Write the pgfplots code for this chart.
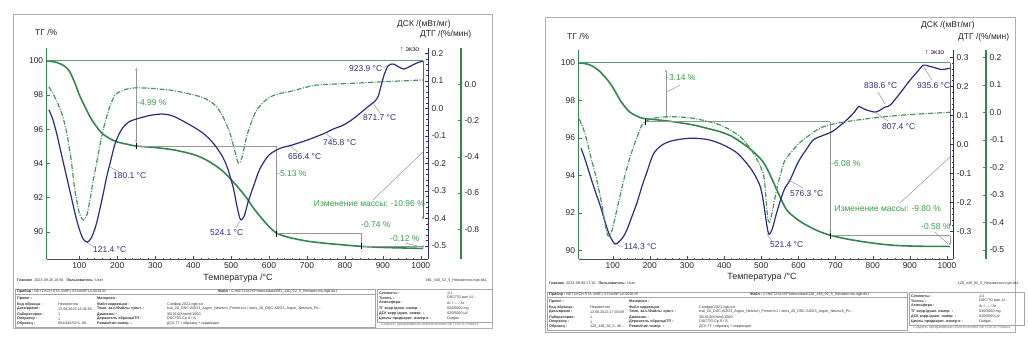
\documentclass[border=0pt]{standalone}
\usepackage{pgfplots}
\pgfplotsset{compat=1.18}
\usepackage{fontspec}
\setmainfont{Liberation Sans}
\usetikzlibrary{arrows.meta}
\definecolor{tggreen}{RGB}{50,135,80}
\definecolor{dtggreen}{RGB}{70,150,90}
\definecolor{annogreen}{RGB}{55,160,70}
\definecolor{dscnavy}{RGB}{42,45,125}
\definecolor{annogray}{RGB}{150,150,150}
\definecolor{framegray}{RGB}{175,175,175}
\pgfplotsset{
  base/.style={scale only axis, clip=false,
    tick label style={font=\fontsize{8.5}{10}\selectfont, text=black!85},
    /pgf/number format/assume math mode=true,
    /pgf/number format/1000 sep={},
    major tick length=3bp, minor tick length=1.6bp},
  onedec/.style={yticklabel style={/pgf/number format/fixed,/pgf/number format/precision=1,/pgf/number format/fixed zerofill}},
  tgline/.style={tggreen, line width=1.6bp, smooth},
  dscline/.style={dscnavy, line width=1.2bp, smooth},
  dtgline/.style={dtggreen, line width=1.2bp, smooth, dash pattern=on 5bp off 1.5bp on 1bp off 1.5bp},
}
\newcommand{\infotable}[6]{%
\begin{scope}[shift={(#1,#2)}, every node/.style={font=\fontsize{3.7}{4}\selectfont, text=black!80, inner sep=0pt, anchor=west}]
\node at (4,0) {\textbf{Главное}\ \ #3 \ \ \textbf{Пользователь:} User};
\node[anchor=east] at (474,1) {#6};
\draw[black!35, line width=0.4bp] (2,9) rectangle (362,47);
\draw[black!35, line width=0.4bp] (364,9) rectangle (479,42);
\draw[black!35, line width=0.3bp] (2,14.5) -- (362,14.5);
\node at (4,11.7) {\textbf{Прибор :}\ NETZSCH STA 449F1 STA449F1A-0016-M};
\node at (205,11.7) {\textbf{Файл :}\ C:\textbackslash NETZSCH\textbackslash Proteus\textbackslash data\textbackslash #6};
\node at (4,19) {\textbf{Проект :}};
\node at (84,19) {\textbf{Материал :}};
\node at (4,24.3) {\textbf{Код образца :}};\node at (45,24.3) {Неизвестно};
\node at (84,24.3) {\textbf{Файл коррекции :}};\node at (154,24.3) {Сапфир 2022.ngb-sct};
\node at (4,29) {\textbf{Дата/время :}};\node at (45,29) {#4};
\node at (84,29) {\textbf{Темп. кал./Файлы чувст. :}};\node at (154,29) {tcal\_20\_DSC-Al2O3\_Argon\_Netzsch\_Primer.tc1 / sens\_20\_DSC-Al2O3\_Argon\_Netzsch\_Pri...};
\node at (4,34.3) {\textbf{Лаборатория :}};\node at (45,34.3) {1};
\node at (84,34.3) {\textbf{Диапазон :}};\node at (154,34.3) {30/10.0(K/min)/1000};
\node at (4,39) {\textbf{Оператор :}};\node at (45,39) {1};
\node at (84,39) {\textbf{Держатель образца/ТП :}};\node at (154,39) {DSC/TG Cp S / S};
\node at (4,43.7) {\textbf{Образец :}};\node at (45,43.7) {#5};
\node at (84,43.7) {\textbf{Режим/тип измер. :}};\node at (154,43.7) {ДСК-ТГ / образец + коррекция};
\node at (366,13.3) {\textbf{Сегменты :}};\node at (434,13.3) {1/1};
\node at (366,18) {\textbf{Тигель :}};\node at (434,18) {DSC/TG pan Al...};
\node at (366,23) {\textbf{Атмосфера :}};\node at (434,23) {Ar / --- / Ar};
\node at (366,28.7) {\textbf{ТГ корр./диап. измер. :}};\node at (434,28.7) {020/5000 mg};
\node at (366,33.7) {\textbf{ДСК корр./диап. измер. :}};\node at (434,33.7) {020/5000 µV};
\node at (366,38.3) {\textbf{Циклы предварит. измер-я :}};\node at (434,38.3) {Outgas};
\node[text=black!55] at (368,44.5) {Создано программным обеспечением NETZSCH Proteus};
\end{scope}}
\begin{document}
\begin{tikzpicture}
\fill[white] (0,0) rectangle (1028bp,354bp);
% ================= LEFT PANEL =================
\begin{axis}[base, at={(46.7bp,94.7bp)}, anchor=south west, width=381.3bp, height=211.3bp,
  xmin=14, xmax=1019, ymin=88.386, ymax=100.743,
  axis x line*=bottom, axis y line*=left,
  xtick={100,200,300,400,500,600,700,800,900,1000}, minor x tick num=4,
  ytick={90,92,94,96,98,100},
  x axis line style={black!70, line width=0.8bp}, xtick style={black!70},
  y axis line style={tggreen, line width=1.2bp}, ytick style={tggreen}]
\addplot[tgline] coordinates {(14,100.0)(40,99.9)(60,99.7)(75,99.35)(90,98.6)(100,98.0)(115,97.3)(130,96.65)(145,96.15)(160,95.75)(180,95.45)(200,95.25)(225,95.12)(250,95.01)(300,94.92)(350,94.78)(400,94.52)(430,94.25)(460,93.85)(480,93.5)(500,93.05)(520,92.55)(540,92.0)(560,91.35)(580,90.8)(600,90.3)(620,89.92)(650,89.68)(700,89.45)(750,89.32)(800,89.22)(845,89.14)(900,89.08)(950,89.05)(1006,89.02)};
\draw[tggreen!80, line width=0.6bp] (14,100) -- (1006,100);
\draw[annogray, line width=0.6bp] (250,95.01) -- (620,95.01);
\draw[annogray, line width=0.6bp] (620,89.88) -- (844,89.88);
\draw[annogray, line width=0.6bp] (844,89.14) -- (1006,89.14);
\draw[annogray, line width=0.6bp, {Stealth[length=3bp,width=2bp]}-{Stealth[length=3bp,width=2bp]}] (250,99.6) -- (250,95.2);
\draw[annogray, line width=0.6bp, -{Stealth[length=3bp,width=2bp]}] (620,95.01) -- (620,89.95);
\draw[annogray, line width=0.6bp, -{Stealth[length=3bp,width=2bp]}] (844,89.88) -- (844,89.18);
\draw[annogray, line width=0.6bp, -{Stealth[length=3bp,width=2bp]}] (1006,89.14) -- (1006,89.04);
\draw[black!60, line width=0.6bp, -{Stealth[length=3bp,width=2bp]}] (1006,100) -- (1006,90.7);
\draw[black, line width=0.6bp] (250,95.18) -- (250,94.84) (620,90.05) -- (620,89.71) (844,89.31) -- (844,88.97);
\end{axis}
\begin{axis}[base, at={(46.7bp,94.7bp)}, anchor=south west, width=381.3bp, height=211.3bp,
  xmin=14, xmax=1019, ymin=-0.5491, ymax=0.2193,
  axis y line*=right, axis x line=none, onedec,
  ytick={-0.5,-0.4,-0.3,-0.2,-0.1,0,0.1,0.2}, minor y tick num=4,
  y axis line style={dscnavy, line width=1bp}, ytick style={dscnavy}]
\addplot[dscline] coordinates {(20,-0.006)(30,-0.04)(40,-0.09)(50,-0.15)(60,-0.21)(70,-0.27)(80,-0.33)(90,-0.39)(100,-0.44)(110,-0.475)(121,-0.487)(132,-0.47)(145,-0.42)(160,-0.33)(172,-0.25)(181,-0.2)(194,-0.13)(210,-0.08)(230,-0.05)(260,-0.035)(290,-0.025)(321,-0.021)(350,-0.03)(400,-0.067)(430,-0.095)(453,-0.127)(475,-0.17)(490,-0.215)(506,-0.29)(516,-0.36)(525,-0.405)(535,-0.39)(545,-0.34)(560,-0.28)(576,-0.22)(600,-0.17)(630,-0.145)(655,-0.136)(680,-0.125)(708,-0.112)(730,-0.1)(746,-0.091)(770,-0.075)(796,-0.061)(820,-0.04)(840,-0.018)(860,0.005)(872,0.018)(880,0.027)(888,0.045)(895,0.08)(903,0.12)(912,0.15)(920,0.16)(930,0.16)(940,0.152)(954,0.143)(965,0.148)(975,0.155)(990,0.165)(1006,0.172)};
\end{axis}
\begin{axis}[base, at={(46.7bp,94.7bp)}, anchor=south west, width=414.3bp, height=211.3bp,
  xmin=14, xmax=1106, ymin=-0.9669, ymax=0.2006,
  axis y line*=right, axis x line=none, onedec,
  ytick={-0.8,-0.6,-0.4,-0.2,0},
  y axis line style={tggreen, line width=1.2bp}, ytick style={tggreen}]
\addplot[dtgline] coordinates {(20,-0.015)(30,-0.05)(40,-0.09)(55,-0.17)(67,-0.27)(78,-0.41)(88,-0.58)(100,-0.71)(111,-0.75)(120,-0.72)(128,-0.64)(136,-0.54)(145,-0.44)(155,-0.33)(163,-0.25)(172,-0.18)(181,-0.12)(190,-0.075)(199,-0.05)(220,-0.03)(243,-0.02)(286,-0.022)(348,-0.035)(418,-0.068)(445,-0.095)(462,-0.125)(480,-0.185)(497,-0.27)(510,-0.37)(519,-0.435)(528,-0.41)(541,-0.29)(555,-0.2)(568,-0.14)(585,-0.1)(603,-0.07)(630,-0.05)(655,-0.04)(700,-0.015)(726,-0.004)(814,0.005)(901,0.014)(1006,0.024)};
\end{axis}
% ================= RIGHT PANEL =================
\begin{axis}[base, at={(578.5bp,94.7bp)}, anchor=south west, width=374.7bp, height=209.3bp,
  xmin=7.9, xmax=1016.8, ymin=89.515, ymax=100.677,
  axis x line*=bottom, axis y line*=left,
  xtick={100,200,300,400,500,600,700,800,900,1000}, minor x tick num=4,
  ytick={90,92,94,96,98,100},
  x axis line style={black!70, line width=0.8bp}, xtick style={black!70},
  y axis line style={tggreen, line width=1.2bp}, ytick style={tggreen}]
\addplot[tgline] coordinates {(8,100.0)(39,99.88)(66,99.52)(93,98.9)(110,98.35)(120,98.0)(135,97.6)(147,97.35)(165,97.15)(182,97.03)(210,96.97)(245,96.9)(280,96.8)(317,96.68)(350,96.52)(389,96.32)(420,96.08)(443,95.79)(470,95.4)(497,94.9)(510,94.55)(523,94.05)(540,93.3)(555,92.65)(569,92.13)(590,91.75)(613,91.43)(650,91.05)(685,90.8)(730,90.6)(775,90.45)(820,90.33)(865,90.25)(930,90.21)(1008,90.2)};
\draw[tggreen!80, line width=0.6bp] (8,100) -- (1008,100);
\draw[annogray, line width=0.6bp] (187,96.86) -- (686,96.86);
\draw[annogray, line width=0.6bp] (686,90.78) -- (1008,90.78);
\draw[annogray, line width=0.6bp, {Stealth[length=3bp,width=2bp]}-{Stealth[length=3bp,width=2bp]}] (243,99.65) -- (243,97.0);
\draw[annogray, line width=0.6bp, -{Stealth[length=3bp,width=2bp]}] (686,96.86) -- (686,90.9);
\draw[annogray, line width=0.6bp, -{Stealth[length=3bp,width=2bp]}] (1008,90.78) -- (1008,90.25);
\draw[black!60, line width=0.6bp, -{Stealth[length=3bp,width=2bp]}] (1008,100) -- (1008,91.25);
\draw[black, line width=0.6bp] (187,97.02) -- (187,96.7) (686,90.94) -- (686,90.62);
\end{axis}
\begin{axis}[base, at={(578.5bp,94.7bp)}, anchor=south west, width=374.7bp, height=209.3bp,
  xmin=7.9, xmax=1016.8, ymin=-0.3966, ymax=0.3252,
  axis y line*=right, axis x line=none, onedec,
  ytick={-0.3,-0.2,-0.1,0,0.1,0.2,0.3}, minor y tick num=4,
  y axis line style={dscnavy, line width=1bp}, ytick style={dscnavy}]
\addplot[dscline] coordinates {(15,-0.014)(25,-0.05)(35,-0.09)(43,-0.123)(55,-0.17)(66,-0.21)(80,-0.27)(92,-0.315)(106,-0.344)(118,-0.335)(128,-0.32)(138,-0.296)(150,-0.255)(165,-0.203)(180,-0.14)(191,-0.1)(209,-0.035)(230,-0.005)(254,0.01)(285,0.018)(317,0.021)(353,0.017)(380,0.007)(407,-0.008)(435,-0.03)(461,-0.066)(480,-0.1)(497,-0.145)(506,-0.2)(515,-0.28)(521,-0.31)(530,-0.29)(541,-0.238)(555,-0.18)(564,-0.15)(577,-0.124)(600,-0.06)(620,-0.02)(640,0.015)(665,0.03)(690,0.043)(710,0.062)(730,0.084)(750,0.11)(762,0.13)(772,0.125)(784,0.118)(807,0.111)(820,0.118)(833,0.128)(847,0.135)(870,0.17)(901,0.222)(920,0.25)(936,0.273)(950,0.27)(968,0.264)(985,0.258)(1008,0.262)};
\end{axis}
\begin{axis}[base, at={(578.5bp,94.7bp)}, anchor=south west, width=407.5bp, height=209.3bp,
  xmin=7.9, xmax=1105.1, ymin=-0.5345, ymax=0.2265,
  axis y line*=right, axis x line=none, onedec,
  ytick={-0.5,-0.4,-0.3,-0.2,-0.1,0,0.1,0.2},
  y axis line style={tggreen, line width=1.2bp}, ytick style={tggreen}]
\addplot[dtgline] coordinates {(10,-0.025)(25,-0.076)(43,-0.173)(57,-0.246)(70,-0.33)(80,-0.41)(88,-0.45)(98,-0.43)(111,-0.355)(129,-0.25)(143,-0.18)(156,-0.125)(170,-0.075)(182,-0.04)(209,-0.022)(254,-0.016)(317,-0.022)(389,-0.046)(443,-0.089)(479,-0.149)(505,-0.222)(512,-0.3)(517,-0.38)(522,-0.40)(530,-0.36)(541,-0.283)(553,-0.22)(564,-0.174)(590,-0.13)(613,-0.1)(658,-0.058)(703,-0.04)(793,-0.022)(882,-0.01)(1008,0.0)};
\end{axis}
% ================= texts (pixel coordinates) =================
\begin{scope}[x=1bp, y=-1bp, shift={(0,354bp)}]
\draw[framegray, line width=0.8bp] (13,14) rectangle (492,328);
\draw[framegray, line width=0.8bp] (545,17) rectangle (1015,332);
\begin{scope}[every node/.style={font=\fontsize{8.5}{10}\selectfont, inner sep=0pt}]
% left
\node[anchor=west, text=black!85] at (35,32) {ТГ /\%};
\node[anchor=west, text=black!85] at (397,24) {ДСК /(мВт/мг)};
\node[anchor=west, text=black!85] at (420,34) {ДТГ /(\%/мин)};
\node[anchor=west, text=black!85, font=\fontsize{7}{8}\selectfont] at (400,50) {↑ экзо};
\node[text=black!85, font=\fontsize{9}{10}\selectfont] at (238,278) {Температура /°C};
\node[anchor=west, text=annogreen] at (137,103) {-4.99 \%};
\node[anchor=west, text=annogreen] at (277,174) {-5.13 \%};
\node[anchor=west, text=annogreen] at (361,225) {-0.74 \%};
\node[anchor=west, text=annogreen] at (390,239) {-0.12 \%};
\node[anchor=east, text=annogreen] at (425,204) {Изменение массы: -10.96 \%};
\node[anchor=west, text=dscnavy] at (93,250) {121.4 °C};
\node[anchor=west, text=dscnavy] at (113,176) {180.1 °C};
\node[anchor=west, text=dscnavy] at (210,233) {524.1 °C};
\node[anchor=west, text=dscnavy] at (288,157) {656.4 °C};
\node[anchor=west, text=dscnavy] at (323,143) {745.8 °C};
\node[anchor=west, text=dscnavy] at (363,118) {871.7 °C};
\node[anchor=west, text=dscnavy] at (349,69) {923.9 °C};
% right
\node[anchor=west, text=black!85] at (567,36) {ТГ /\%};
\node[anchor=west, text=black!85] at (921,25) {ДСК /(мВт/мг)};
\node[anchor=west, text=black!85] at (958,37) {ДТГ /(\%/мин)};
\node[anchor=west, text=black!85, font=\fontsize{7}{8}\selectfont] at (925,53) {↑ экзо};
\node[text=black!85, font=\fontsize{9}{10}\selectfont] at (762,277) {Температура /°C};
\node[anchor=west, text=annogreen] at (666,78) {-3.14 \%};
\node[anchor=west, text=annogreen] at (831,164) {-6.08 \%};
\node[anchor=west, text=annogreen] at (921,227) {-0.58 \%};
\node[anchor=east, text=annogreen] at (941,209) {Изменение массы: -9.80 \%};
\node[anchor=west, text=dscnavy] at (624,247) {114.3 °C};
\node[anchor=west, text=dscnavy] at (770,245) {521.4 °C};
\node[anchor=west, text=dscnavy] at (790,194) {576.3 °C};
\node[anchor=west, text=dscnavy] at (882,127) {807.4 °C};
\node[anchor=west, text=dscnavy] at (864,86) {838.6 °C};
\node[anchor=west, text=dscnavy] at (917,86) {935.6 °C};
\end{scope}
% leader lines
\begin{scope}[annogray, line width=0.5bp]
\draw (88,243) -- (94,247);
\draw (110,167) -- (119,172);
\draw (240,221) -- (236,228);
\draw (290,146) -- (298,152);
\draw (325,133) -- (333,139);
\draw (373,103) -- (380,113);
\draw (383,68) -- (390,64);
\draw (373,200) -- (423,152);
\draw (405,243) -- (422,247);
\draw (667,92) -- (680,85);
\draw (935,232) -- (948,244);
\draw (900,203) -- (950,157);
\draw (615,244) -- (623,247);
\draw (767,234) -- (772,241);
\draw (787,179) -- (803,188);
\draw (875,112) -- (888,121);
\draw (878,92) -- (885,104);
\draw (923,66) -- (932,80);
\end{scope}
\infotable{13}{280}{2023-09-26 16:56}{13.06.2023 13:41:55}{081/440/52,5, 08...}{081\_440\_52\_5\_Неизвестно.ngb-ds1}
\infotable{545}{283}{2023-09-09 17:10}{13.06.2023 17:03:09}{128\_448\_92\_5, 48...}{128\_448\_92\_5\_Неизвестно.ngb-ds1}
\end{scope}
\end{tikzpicture}
\end{document}
